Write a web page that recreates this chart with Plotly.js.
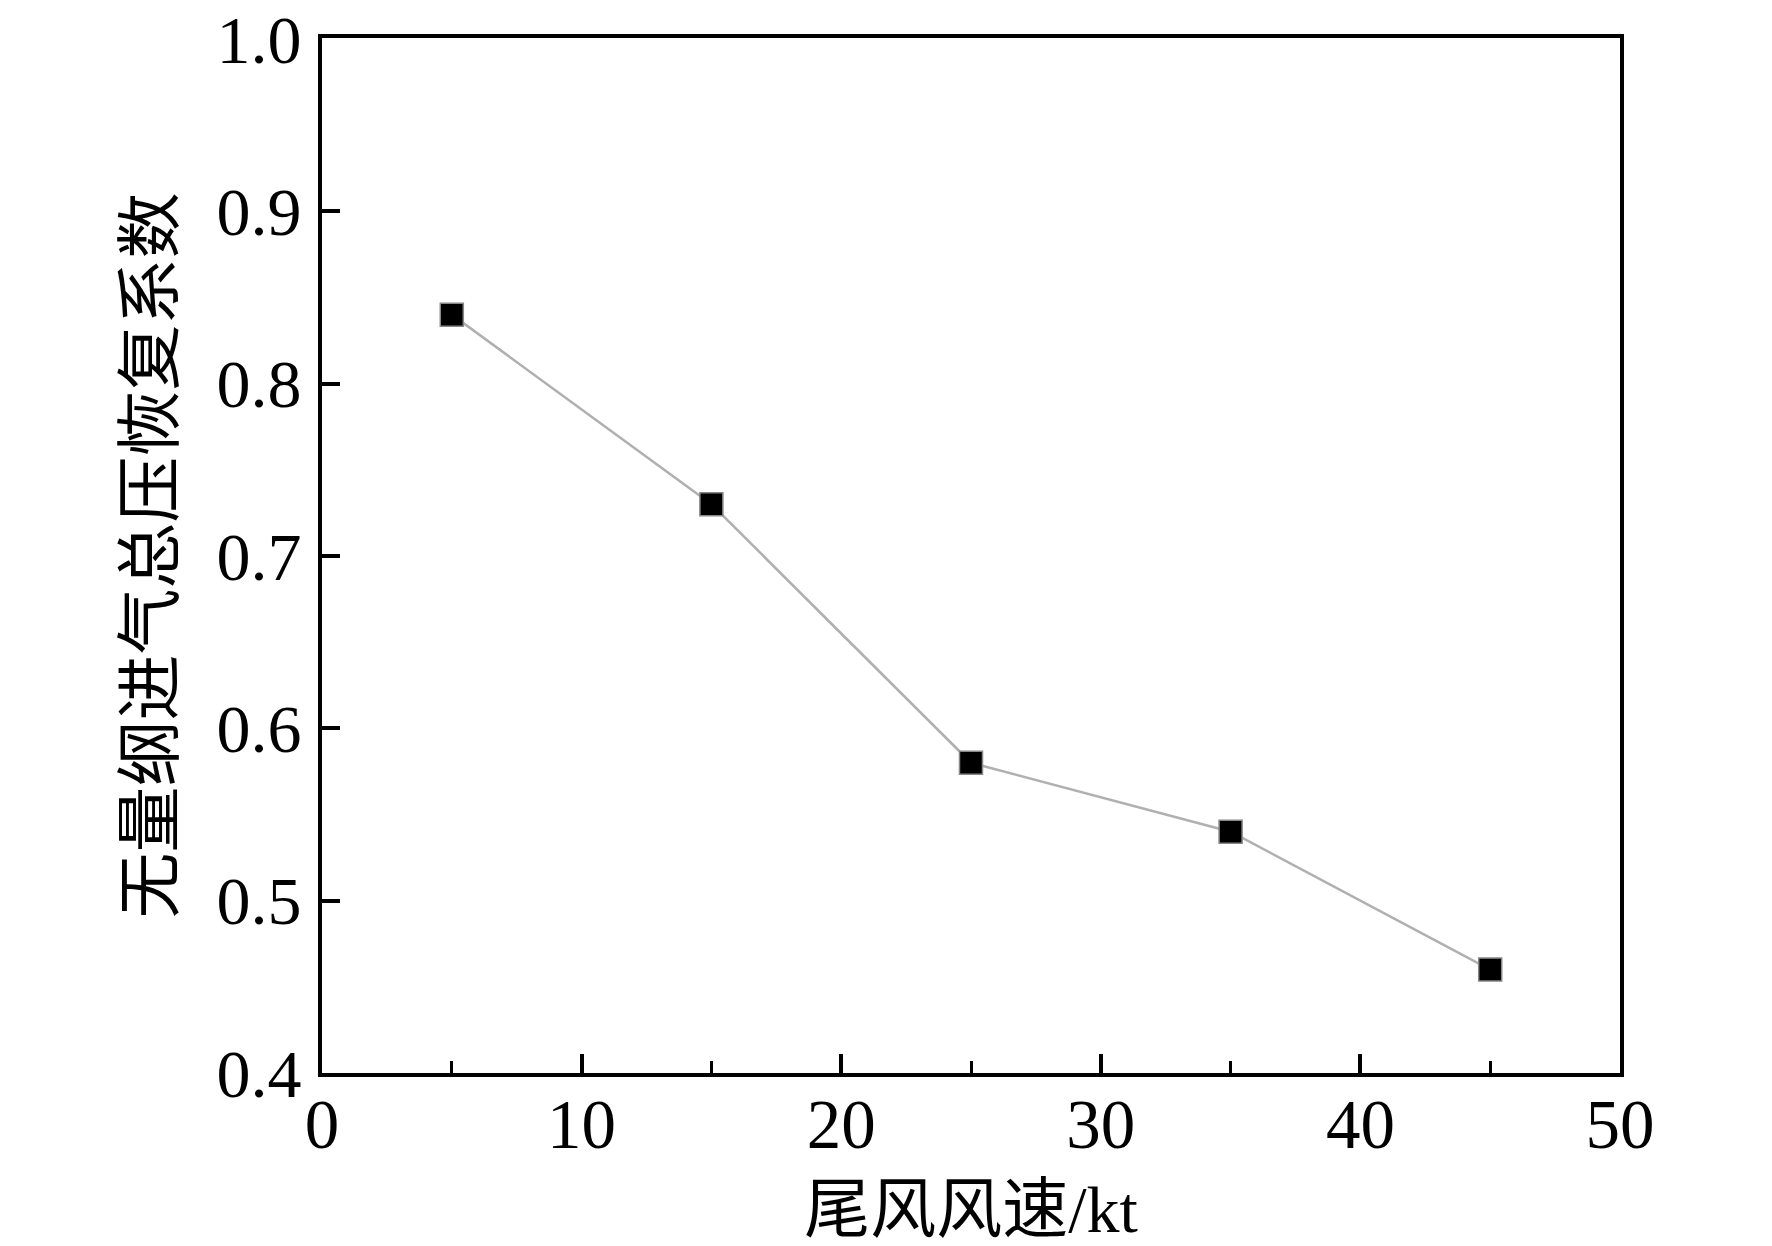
<!DOCTYPE html>
<html>
<head>
<meta charset="utf-8">
<script src="https://cdn.plot.ly/plotly-3.0.1.min.js"></script>
<style>html,body{margin:0;padding:0;background:#fff;}#chart{width:1772px;height:1246px;}</style>
</head>
<body>
<div id="chart"></div>
<script>
const windSpeed = [5, 15, 25, 35, 45];
const recoveryCoef = [0.84, 0.73, 0.58, 0.54, 0.46];
const xTickVals = [0, 10, 20, 30, 40, 50];
const yTickVals = [0.4, 0.5, 0.6, 0.7, 0.8, 0.9, 1.0];
const yTickText = ['0.4', '0.5', '0.6', '0.7', '0.8', '0.9', '1.0'];
const xTitle = '尾风风速/kt';
const yTitle = '无量纲进气总压恢复系数';

const fontFam = '"Liberation Serif", "Times New Roman", "Noto Sans CJK SC", serif';

const trace = {
  x: windSpeed,
  y: recoveryCoef,
  type: 'scatter',
  mode: 'lines+markers',
  line: {color: '#b0b0b0', width: 2.5},
  marker: {symbol: 'square', size: 23, color: '#000000', line: {color: '#888888', width: 1.5}},
  showlegend: false,
  cliponaxis: false
};

const layout = {
  width: 1772,
  height: 1246,
  margin: {l: 322, r: 152, t: 38, b: 173},
  paper_bgcolor: '#ffffff',
  plot_bgcolor: '#ffffff',
  font: {family: fontFam, color: '#000000'},
  xaxis: {
    range: [0, 50],
    tickmode: 'array',
    tickvals: xTickVals,
    ticks: 'inside',
    ticklen: 19,
    tickwidth: 4,
    tickcolor: '#000',
    ticklabelstandoff: -12,
    minor: {tickmode: 'array', tickvals: windSpeed, ticks: 'inside', ticklen: 12, tickwidth: 3, tickcolor: '#000', showgrid: false},
    showline: true,
    linewidth: 4,
    linecolor: '#000',
    mirror: true,
    showgrid: false,
    zeroline: false,
    tickfont: {size: 69, family: fontFam},
    title: {text: xTitle, font: {size: 66, family: fontFam}, standoff: 43}
  },
  yaxis: {
    range: [0.4, 1.0005],
    tickmode: 'array',
    tickvals: yTickVals,
    ticktext: yTickText,
    ticks: 'inside',
    ticklen: 18,
    tickwidth: 4,
    tickcolor: '#000',
    ticklabelstandoff: 3,
    showline: true,
    linewidth: 4,
    linecolor: '#000',
    mirror: true,
    showgrid: false,
    zeroline: false,
    tickfont: {size: 68, family: fontFam},
    title: {text: yTitle, font: {size: 66, family: fontFam}, standoff: 22}
  }
};

Plotly.newPlot('chart', [trace], layout, {displayModeBar: false, staticPlot: true});
</script>
</body>
</html>
